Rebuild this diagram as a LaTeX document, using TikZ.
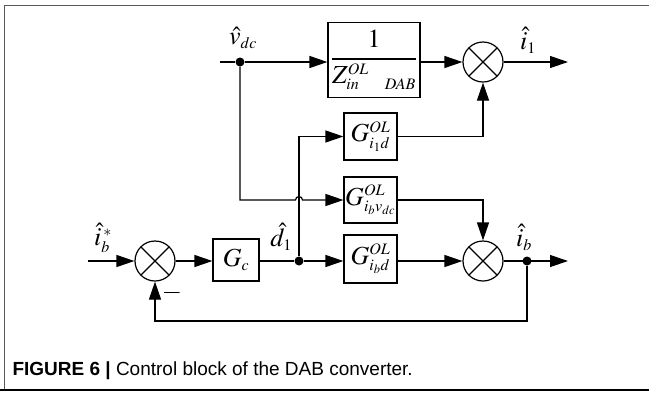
\documentclass[tikz,border=0pt]{standalone}
\usepackage[no-math]{fontspec}
\usepackage{mathptmx}
\setmainfont{Liberation Serif}
\setsansfont{Liberation Sans}
\usetikzlibrary{arrows.meta,calc}
\DeclareMathSizes{26}{26}{16}{12.5}

\tikzset{
  block/.style={draw, line width=1.2pt, minimum width=53pt, minimum height=47pt, inner sep=0pt},
  sumnode/.style={draw, circle, line width=1.2pt, minimum size=40pt, inner sep=0pt,
    path picture={\draw[line width=1.2pt]
      (path picture bounding box.north west) -- (path picture bounding box.south east)
      (path picture bounding box.north east) -- (path picture bounding box.south west);}},
  junction/.style={circle, fill, inner sep=0pt, minimum size=9pt},
  sig/.style={line width=1.2pt, -{Triangle[length=18pt,width=12pt]}},
  wire/.style={line width=1.2pt}
}

\begin{document}
\begin{tikzpicture}[x=1pt, y=-1pt, every node/.style={font=\fontsize{26}{30}\selectfont}]

\useasboundingbox (0,0) rectangle (649,392);

% ================= FRAME =================
\draw[gray!70!black, line width=1pt] (649,5) -- (4,5) -- (4,390);
\draw[black, line width=1.6pt] (0,390) -- (649,390);

% ================= BLOCKS =================
\node[block, minimum width=92pt, minimum height=75pt] (zin) at (374,60)
{$\displaystyle\frac{1}{Z^{OL}_{in\quad DAB}}$};
\node[block] (gid) at (370.5,136.5) {$G^{OL}_{i_1 d}$};
\node[block, minimum height=46pt] (gibv) at (370.5,200) {$G^{OL}_{i_b v_{dc}}$};
\node[block, minimum height=48pt] (gibd) at (370.5,259) {$G^{OL}_{i_b d}$};
\node[block, minimum width=46pt, minimum height=42pt] (gc) at (236,260) {$G_c$};

% Summing junctions
\node[sumnode] (sumtop) at (483,62) {};
\node[sumnode] (sumbot) at (483,261) {};
\node[sumnode] (sumin) at (155,261) {};

% Branch points
\node[junction] (vdcdot) at (240,62) {};
\node[junction] (ddot) at (299,261) {};
\node[junction] (ibdot) at (527,261) {};

\coordinate (vdcin) at (220,62);
\coordinate (iout) at (568,62);
\coordinate (ibout) at (568,261);
\coordinate (ibref) at (88,261);
\coordinate (fb) at (527,321);

% ================= SIGNALS =================
\draw[sig] (vdcin) -- (vdcdot) -- (zin.west |- vdcdot);
\draw[sig] (zin.east |- sumtop) -- (sumtop.west);
\draw[sig] (sumtop) -- (iout);
\draw[sig] (gid.east) -| (sumtop.south);
\draw[sig] (ddot) |- (gid.west);
\draw[sig] (vdcdot) |- ([xshift=-3.5pt]ddot |- gibv.west)
  arc[start angle=180, end angle=360, radius=3.5] -- (gibv.west);
\draw[sig] (gibv.east) -| (sumbot.north);
\draw[sig] (ddot) -- (gibd.west |- ddot);
\draw[sig] (gibd.east |- sumbot) -- (sumbot.west);
\draw[sig] (sumbot) -- (ibout);
\draw[sig] (ibdot) |- (sumin |- fb) -- (sumin.south);
\draw[sig] (ibref) -- (sumin.west);
\draw[sig] (sumin) -- (gc.west |- sumin);
\draw[wire] (gc.east |- ddot) -- (ddot);

% ================= LABELS =================
\node (vdclbl) at (243,38) {$\hat{v}_{dc}$};
\node (i1lbl) at (528,40) {$\hat{i}_1$};
\node (d1lbl) at (281,237) {$\hat{d}_1$};
\node (iblbl) at (524,237) {$\hat{i}_b$};
\node (ibreflbl) at (103,238) {$\hat{i}^{\,*}_b$};
\node (minuslbl) at (172,293) {$-$};

% Caption
\node[anchor=base west, font=\sffamily\fontsize{19}{21}\selectfont] (caption) at (9,375)
{\textbf{FIGURE 6 |} Control block of the DAB converter.};

\end{tikzpicture}
\end{document}
